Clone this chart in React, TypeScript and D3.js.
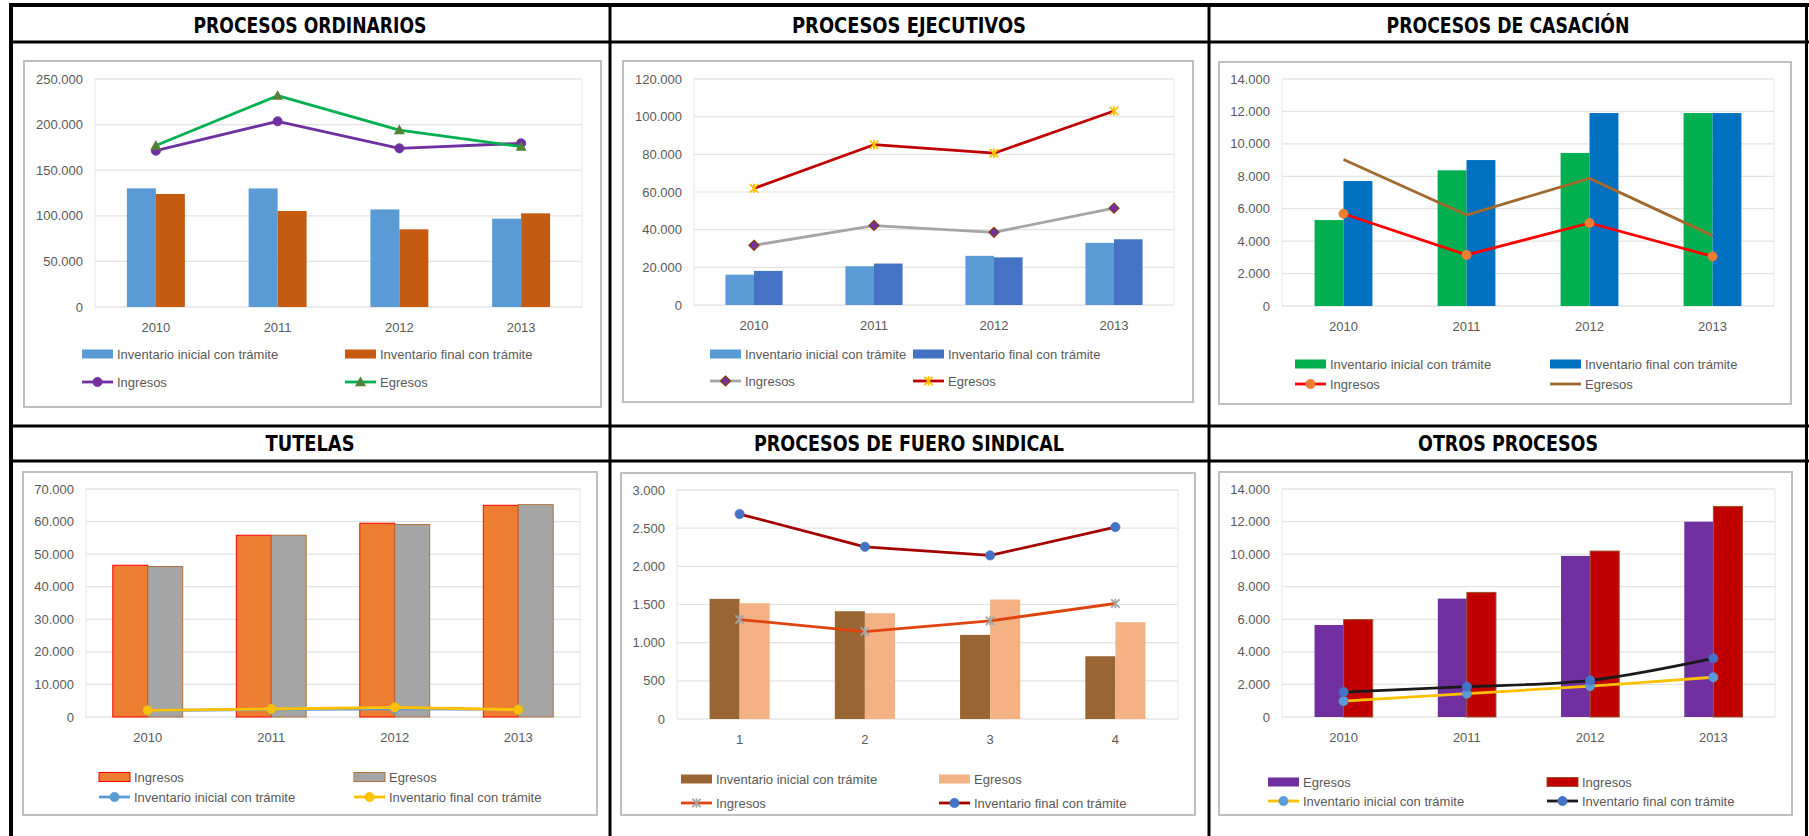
import React from "react";
import * as d3 from "d3";

// ---------- DATA ----------
const years = ["2010", "2011", "2012", "2013"];
const fueroCats = ["1", "2", "3", "4"];

// Procesos ordinarios
const ordInicial = [130100, 130000, 107000, 96900];
const ordFinal = [123900, 105300, 85200, 102700];
const ordIngresos = [171400, 203600, 174000, 179500];
const ordEgresos = [177000, 231700, 194000, 175800];

// Procesos ejecutivos
const ejeInicial = [16100, 20600, 26100, 33000];
const ejeFinal = [18100, 22000, 25300, 34900];
const ejeIngresos = [31700, 42200, 38600, 51400];
const ejeEgresos = [61900, 85100, 80600, 103000];

// Procesos de casación
const casInicial = [5300, 8370, 9440, 11900];
const casFinal = [7710, 9000, 11900, 11900];
const casIngresos = [5690, 3150, 5120, 3060];
const casEgresos = [9030, 5610, 7870, 4340];

// Tutelas
const tutIngresos = [46600, 55800, 59500, 65000];
const tutEgresos = [46200, 55800, 59100, 65200];
const tutInicial = [2000, 2300, 2500, 2300];
const tutFinal = [2050, 2460, 2970, 2250];

// Fuero sindical
const fueInicial = [1574, 1412, 1102, 822];
const fueEgresos = [1517, 1386, 1565, 1268];
const fueIngresos = [1303, 1146, 1286, 1513];
const fueFinal = [2685, 2256, 2143, 2514];

// Otros procesos
const otrEgresos = [5650, 7270, 9890, 11990];
const otrIngresos = [5980, 7650, 10190, 12930];
const otrInicial = [980, 1430, 1900, 2440];
const otrFinal = [1530, 1860, 2250, 3600];

const titles = [
  "PROCESOS ORDINARIOS",
  "PROCESOS EJECUTIVOS",
  "PROCESOS DE CASACIÓN",
  "TUTELAS",
  "PROCESOS DE FUERO SINDICAL",
  "OTROS PROCESOS",
];

const L_INI = "Inventario inicial con trámite";
const L_FIN = "Inventario final con trámite";
const L_ING = "Ingresos";
const L_EGR = "Egresos";

// ---------- LAYOUT / STYLE ----------
type Series = {
  name: string;
  kind: "bar" | "line";
  values: number[];
  color: string;
  stroke?: string;
  marker?: "circle" | "triangle" | "diamond" | "star" | "none";
  mFill?: string;
  mStroke?: string;
  smooth?: boolean;
};

type Chart = {
  title: string;
  titleW: number;
  cx: number;
  titleY: number;
  box: [number, number, number, number];
  plot: [number, number, number, number];
  yMax: number;
  yStep: number;
  cats: string[];
  barFrac: number;
  legend: [number, number, number, number];
  series: Series[];
};

const charts: Chart[] = [
  {
    title: titles[0], titleW: 233, cx: 310, titleY: 33,
    box: [24, 61, 601, 407], plot: [95, 79, 582, 307],
    yMax: 250000, yStep: 50000, cats: years, barFrac: 0.238,
    legend: [82, 345, 354, 382],
    series: [
      { name: L_INI, kind: "bar", values: ordInicial, color: "#5B9BD5" },
      { name: L_FIN, kind: "bar", values: ordFinal, color: "#C55A11" },
      { name: L_ING, kind: "line", values: ordIngresos, color: "#7030A0", marker: "circle", mFill: "#7030A0" },
      { name: L_EGR, kind: "line", values: ordEgresos, color: "#00B050", marker: "triangle", mFill: "#548235" },
    ],
  },
  {
    title: titles[1], titleW: 234, cx: 909, titleY: 33,
    box: [623, 61, 1193, 402], plot: [694, 79, 1174, 305],
    yMax: 120000, yStep: 20000, cats: years, barFrac: 0.238,
    legend: [710, 913, 354, 381],
    series: [
      { name: L_INI, kind: "bar", values: ejeInicial, color: "#5B9BD5" },
      { name: L_FIN, kind: "bar", values: ejeFinal, color: "#4472C4" },
      { name: L_ING, kind: "line", values: ejeIngresos, color: "#A5A5A5", marker: "diamond", mFill: "#7030A0", mStroke: "#843C0C" },
      { name: L_EGR, kind: "line", values: ejeEgresos, color: "#C00000", marker: "star", mStroke: "#FFC000" },
    ],
  },
  {
    title: titles[2], titleW: 243, cx: 1508, titleY: 33,
    box: [1219, 62, 1791, 404], plot: [1282, 79, 1774, 306],
    yMax: 14000, yStep: 2000, cats: years, barFrac: 0.235,
    legend: [1295, 1550, 364, 384],
    series: [
      { name: L_INI, kind: "bar", values: casInicial, color: "#00B050" },
      { name: L_FIN, kind: "bar", values: casFinal, color: "#0070C0" },
      { name: L_ING, kind: "line", values: casIngresos, color: "#FF0000", marker: "circle", mFill: "#ED7D31" },
      { name: L_EGR, kind: "line", values: casEgresos, color: "#A0692E", marker: "none" },
    ],
  },
  {
    title: titles[3], titleW: 89, cx: 310, titleY: 451,
    box: [23, 472, 597, 815], plot: [86, 489, 580, 717],
    yMax: 70000, yStep: 10000, cats: years, barFrac: 0.283,
    legend: [99, 354, 777, 797],
    series: [
      { name: L_ING, kind: "bar", values: tutIngresos, color: "#ED7D31", stroke: "#FF0000" },
      { name: L_EGR, kind: "bar", values: tutEgresos, color: "#A5A5A5", stroke: "#B0713A" },
      { name: L_INI, kind: "line", values: tutInicial, color: "#5B9BD5", marker: "circle", mFill: "#5B9BD5" },
      { name: L_FIN, kind: "line", values: tutFinal, color: "#FFC000", marker: "circle", mFill: "#FFC000" },
    ],
  },
  {
    title: titles[4], titleW: 310, cx: 909, titleY: 451,
    box: [621, 473, 1195, 815], plot: [677, 490, 1178, 719],
    yMax: 3000, yStep: 500, cats: fueroCats, barFrac: 0.24,
    legend: [681, 939, 779, 803],
    series: [
      { name: L_INI, kind: "bar", values: fueInicial, color: "#996633" },
      { name: L_EGR, kind: "bar", values: fueEgresos, color: "#F4B183" },
      { name: L_ING, kind: "line", values: fueIngresos, color: "#E0440E", marker: "star", mStroke: "#A5A5A5" },
      { name: L_FIN, kind: "line", values: fueFinal, color: "#A50000", marker: "circle", mFill: "#4472C4" },
    ],
  },
  {
    title: titles[5], titleW: 180, cx: 1508, titleY: 451,
    box: [1219, 472, 1792, 815], plot: [1282, 489, 1775, 717],
    yMax: 14000, yStep: 2000, cats: years, barFrac: 0.236,
    legend: [1268, 1547, 782, 801],
    series: [
      { name: L_EGR, kind: "bar", values: otrEgresos, color: "#7030A0" },
      { name: L_ING, kind: "bar", values: otrIngresos, color: "#C00000", stroke: "#A0522D" },
      { name: L_INI, kind: "line", values: otrInicial, color: "#FFC000", marker: "circle", mFill: "#5B9BD5", smooth: true },
      { name: L_FIN, kind: "line", values: otrFinal, color: "#1A1A1A", marker: "circle", mFill: "#4472C4", smooth: true },
    ],
  },
];

const locale = d3.formatLocale({ decimal: ",", thousands: ".", grouping: [3], currency: ["", ""] });
const fmt = locale.format(",d");

const FONT = "'Liberation Sans', Arial, sans-serif";
const TXT = "#595959";

function Marker({ s, x, y }: { s: Series; x: number; y: number }) {
  const m = s.marker || "none";
  if (m === "circle") return <circle cx={x} cy={y} r={4.6} fill={s.mFill} stroke={s.mStroke || s.mFill} strokeWidth={0.8} />;
  if (m === "triangle") {
    const r = 5.5;
    return <path d={`M${x},${y - r}L${x + r},${y + r * 0.75}L${x - r},${y + r * 0.75}Z`} fill={s.mFill} />;
  }
  if (m === "diamond") {
    const r = 5;
    return <path d={`M${x},${y - r}L${x + r},${y}L${x},${y + r}L${x - r},${y}Z`} fill={s.mFill} stroke={s.mStroke} strokeWidth={1.2} />;
  }
  if (m === "star") {
    const r = 4.2;
    return (
      <path
        d={`M${x - r},${y - r}L${x + r},${y + r}M${x - r},${y + r}L${x + r},${y - r}M${x},${y - r - 0.5}L${x},${y + r + 0.5}`}
        stroke={s.mStroke} strokeWidth={1.8} fill="none"
      />
    );
  }
  return null;
}

function ChartView({ c }: { c: Chart }) {
  const [l, t, r, b] = c.plot;
  const x = d3.scaleBand<string>().domain(c.cats).range([l, r]).paddingInner(0).paddingOuter(0);
  const y = d3.scaleLinear().domain([0, c.yMax]).range([b, t]);
  const ticks = d3.range(0, c.yMax + 1, c.yStep);
  const bw = x.bandwidth() * c.barFrac;
  const bars = c.series.filter((s) => s.kind === "bar");
  const lines = c.series.filter((s) => s.kind === "line");
  const cxOf = (cat: string) => (x(cat) as number) + x.bandwidth() / 2;
  const [bx0, by0, bx1, by1] = c.box;
  const [lx1, lx2, ly1, ly2] = c.legend;

  return (
    <g>
      {/* title */}
      <text
        x={c.cx} y={c.titleY} textAnchor="middle" fontFamily="'DejaVu Sans', Verdana, sans-serif"
        fontWeight="bold" fontSize={21} fill="#000" textLength={c.titleW} lengthAdjust="spacingAndGlyphs"
      >
        {c.title}
      </text>
      {/* chart box */}
      <rect x={bx0} y={by0} width={bx1 - bx0} height={by1 - by0} fill="#fff" stroke="#BFBFBF" strokeWidth={2} />
      {/* grid */}
      {ticks.map((v) => (
        <line key={"g" + v} x1={l} x2={r} y1={y(v)} y2={y(v)} stroke="#E3E3E3" strokeWidth={1.2} />
      ))}
      <rect x={l} y={t} width={r - l} height={b - t} fill="none" stroke="#E6E6E6" strokeWidth={1} />
      {ticks.map((v) => (
        <text key={"t" + v} x={l - 12} y={y(v) + 4.5} textAnchor="end" fontFamily={FONT} fontSize={13} fill={TXT}>
          {fmt(v)}
        </text>
      ))}
      {c.cats.map((cat) => (
        <text key={"x" + cat} x={cxOf(cat)} y={b + 25} textAnchor="middle" fontFamily={FONT} fontSize={13} fill={TXT}>
          {cat}
        </text>
      ))}
      {/* bars */}
      {bars.map((s, si) =>
        s.values.map((v, i) => {
          const cat = c.cats[i];
          const bx = cxOf(cat) - bw + si * bw;
          return (
            <rect
              key={s.name + i} x={bx} y={y(v)} width={bw} height={b - y(v)} fill={s.color}
              stroke={s.stroke || "none"} strokeWidth={s.stroke ? 1 : 0}
            />
          );
        })
      )}
      {/* lines */}
      {lines.map((s) => {
        const gen = d3
          .line<number>()
          .x((_, i) => cxOf(c.cats[i]))
          .y((v) => y(v))
          .curve(s.smooth ? d3.curveCatmullRom.alpha(0.5) : d3.curveLinear);
        return (
          <g key={s.name}>
            <path d={gen(s.values) || ""} fill="none" stroke={s.color} strokeWidth={2.8} strokeLinejoin="round" />
            {s.values.map((v, i) => (
              <Marker key={i} s={s} x={cxOf(c.cats[i])} y={y(v)} />
            ))}
          </g>
        );
      })}
      {/* legend */}
      {c.series.map((s, i) => {
        const lx = i % 2 === 0 ? lx1 : lx2;
        const ly = i < 2 ? ly1 : ly2;
        return (
          <g key={"lg" + i}>
            {s.kind === "bar" ? (
              <rect x={lx} y={ly - 4.5} width={31} height={9} fill={s.color} stroke={s.stroke || "none"} strokeWidth={s.stroke ? 1 : 0} />
            ) : (
              <g>
                <line x1={lx} x2={lx + 31} y1={ly} y2={ly} stroke={s.color} strokeWidth={2.8} />
                <Marker s={s} x={lx + 15.5} y={ly} />
              </g>
            )}
            <text x={lx + 35} y={ly + 4.5} fontFamily={FONT} fontSize={13} fill={TXT}>
              {s.name}
            </text>
          </g>
        );
      })}
    </g>
  );
}

export default function App() {
  const W = 1809;
  const H = 836;
  return (
    <svg
      width={W} height={H} viewBox={`0 0 ${W} ${H}`}
      style={{ position: "absolute", left: 0, top: 0, background: "#fff" }}
    >
      <rect x={0} y={0} width={W} height={H} fill="#fff" />
      {charts.map((c, i) => (
        <ChartView key={i} c={c} />
      ))}
      {/* table frame */}
      <rect x={9} y={3} width={1800} height={4} fill="#000" />
      <rect x={9} y={3} width={4} height={H} fill="#000" />
      <rect x={608.5} y={3} width={3} height={H} fill="#000" />
      <rect x={1207.5} y={3} width={3} height={H} fill="#000" />
      <rect x={1805} y={3} width={3} height={H} fill="#000" />
      <rect x={9} y={40.5} width={1800} height={3} fill="#000" />
      <rect x={9} y={424.5} width={1800} height={3} fill="#000" />
      <rect x={9} y={459.5} width={1800} height={3} fill="#000" />
    </svg>
  );
}
